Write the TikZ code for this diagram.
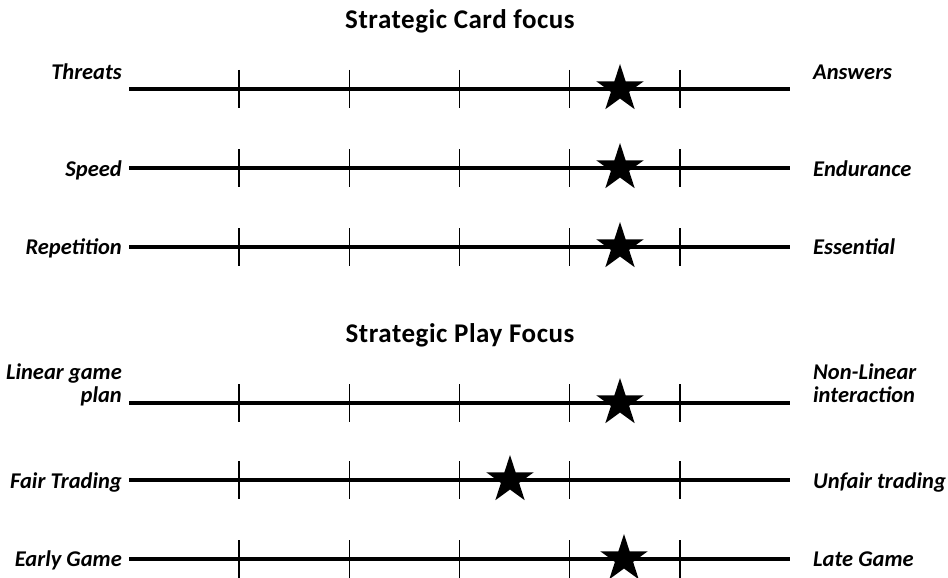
\documentclass[tikz,border=0pt]{standalone}
\usepackage{fontspec}
\setmainfont{Carlito}
\newfontfamily\headfont[LetterSpace=2.0]{Carlito}
\usetikzlibrary{shapes.geometric, positioning, calc}
\tikzset{
  axis/.style={line width=3.4pt, color=black},
  tick/.style={line width=1.5pt, color=black},
  starmark/.style={star, star points=5, star point ratio=2.618, fill=black,
    draw=none, minimum size=50pt, inner sep=0pt},
  leftlbl/.style={font=\fontsize{22.5}{23}\selectfont\bfseries\itshape,
    inner sep=0pt, align=right},
  rightlbl/.style={font=\fontsize{22.5}{23}\selectfont\bfseries\itshape,
    inner sep=0pt, align=left},
  heading/.style={font=\headfont\fontsize{27}{30}\selectfont\bfseries, inner sep=0pt}
}

\begin{document}
\begin{tikzpicture}[x=1pt, y=-1pt]
  \useasboundingbox (0,0) rectangle (948,578);

  % Headings
  \node[heading, anchor=base] (h1) at (460,29) {Strategic Card focus};
  \node[heading, anchor=base] (h2) at (460,342) {Strategic Play Focus};

  % Scales
  \foreach \i/\y/\s in {1/89/620, 2/168/620, 3/247/620, 4/403/620, 5/480/510, 6/559/624} {
    \coordinate (a\i) at (129,\y);
    \coordinate (b\i) at (790,\y);
    \draw[axis] (a\i) -- (b\i);
    \foreach \k in {1,...,5}
      \draw[tick] ($(a\i)!\k/6!(b\i)$) +(0,-19) -- +(0,19);
    \node[starmark] (s\i) at (\s,\y) {};
  }

  % End labels
  \foreach \i/\dy/\l/\r in {1/-9/Threats/Answers, 2/8/Speed/Endurance,
      3/7/Repetition/Essential, 4/-1/{Linear game\\plan}/{Non-Linear\\interaction},
      5/8/Fair Trading/Unfair trading, 6/7/Early Game/Late Game} {
    \node[leftlbl, anchor=base east] (l\i) at ($(a\i)+(-7,\dy)$) {\l};
    \node[rightlbl, anchor=base west] (r\i) at ($(b\i)+(23,\dy)$) {\r};
  }
\end{tikzpicture}
\end{document}
